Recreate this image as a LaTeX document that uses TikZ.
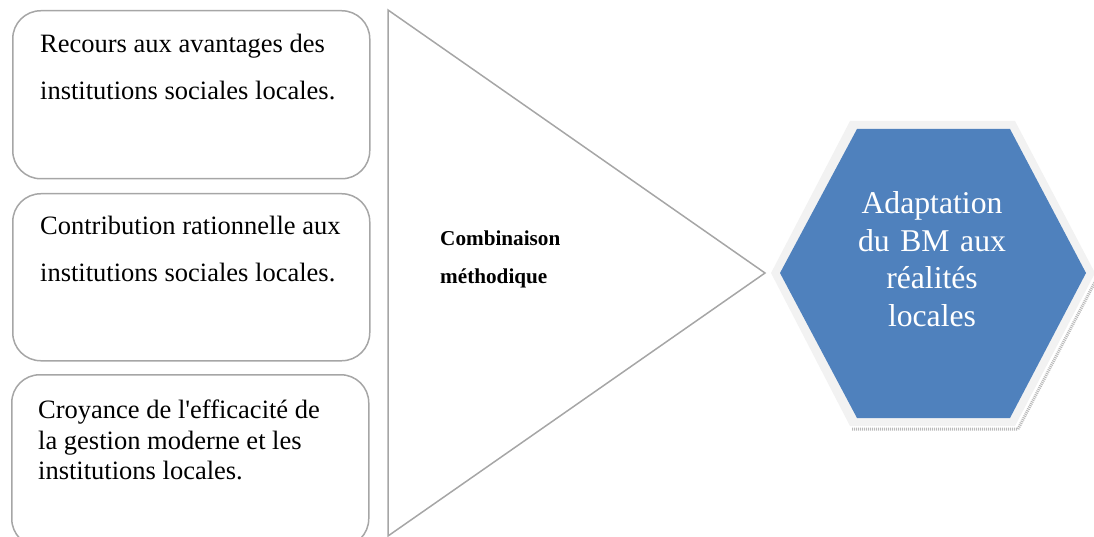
\documentclass[tikz,border=0pt]{standalone}
\usepackage{fontspec}
\setmainfont{Liberation Serif}
\usetikzlibrary{positioning}
\definecolor{cadre}{RGB}{166,166,166}
\definecolor{bleuhex}{RGB}{79,129,189}
\definecolor{bordhex}{RGB}{242,242,242}

\begin{document}
\begin{tikzpicture}[x=1pt, y=-1pt,
				boite/.style={draw=cadre, line width=1.5pt, rounded corners=28pt, minimum width=357pt, anchor=north west, inner sep=0pt},
				texte/.style={anchor=north west, align=left, inner sep=0pt, font=\fontsize{26.5}{46.5}\selectfont},
				ombre/.style={draw=gray!55, line width=3pt, dash pattern=on 1pt off 1pt}]
				\useasboundingbox (0,0) rectangle (1094,537);
				%Boites dessiner
				\node[boite, minimum height=168pt] (b1) at (12,10) {};
				\node[boite, minimum height=167pt] (b2) at (12,193) {};
				\node[boite, minimum height=172pt] (b3) at (11,374) {};
				% Texte der Boites
				\node[texte] (t1) at (40,34) {Recours aux avantages des\\institutions sociales locales.};
				\node[texte] (t2) at (40,216) {Contribution rationnelle aux\\institutions sociales locales.};
				\node[texte, font=\fontsize{26.5}{30.5}\selectfont] (t3) at (38,400) {Croyance de l\textquotesingle efficacit\'e de\\la gestion moderne et les\\institutions locales.};
				% Dreieck
				\coordinate (haut) at (388,10);
				\coordinate (pointe) at (765,273);
				\coordinate (bas) at (388,536);
				\draw[cadre, line width=1.5pt] (haut) -- (pointe) -- (bas) -- cycle;
				\node[anchor=north west, align=left, inner sep=0pt, font=\fontsize{21.2}{37.5}\selectfont\bfseries] (comb) at (440,231) {Combinaison\\m\'ethodique};
				% Sechseck
				\fill[bordhex] (771,273) -- (850,121) -- (1015,121) -- (1095,273) -- (1015,426) -- (850,426) -- cycle;
				\draw[ombre] (852,429) -- (1018,429) -- (1096,280);
				\fill[bleuhex] (780,273) -- (857,129) -- (1010,129) -- (1086,273) -- (1010,418) -- (857,418) -- cycle;
				\node[align=center, text width=170pt, inner sep=0pt, text=white, font=\fontsize{31.7}{37.5}\selectfont] (adapt) at (932,259) {Adaptation\\du BM aux\\r\'ealit\'es\\locales};
			\end{tikzpicture}
\end{document}
